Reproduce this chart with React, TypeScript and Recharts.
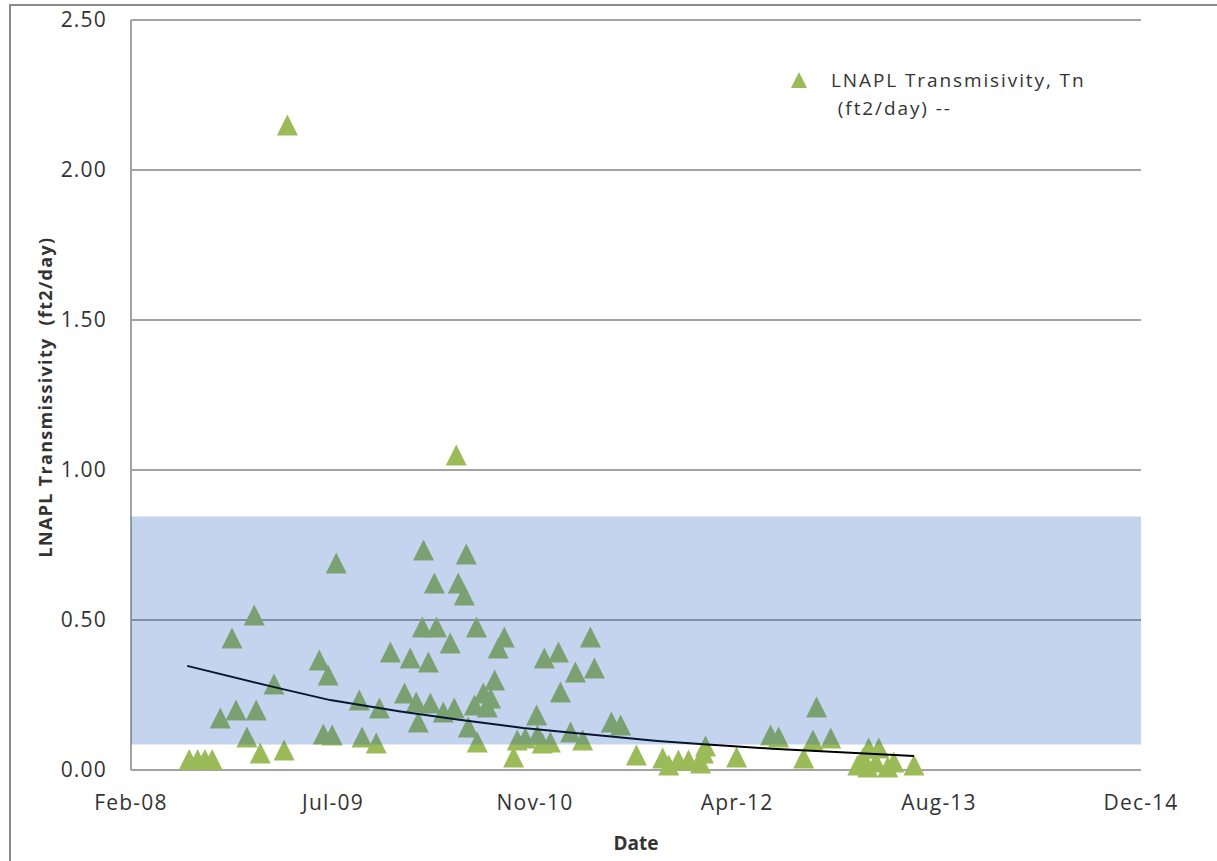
import React from "react";
import {
  CartesianGrid,
  Label,
  ReferenceArea,
  Scatter,
  ScatterChart,
  XAxis,
  YAxis,
} from "recharts";

// LNAPL transmissivity readings (ft2/day)
const tnDates = [
  "2008-07-18", "2008-08-08", "2008-08-26", "2008-09-13", "2008-10-03", "2008-11-01", "2008-11-11", "2008-12-08", "2008-12-26", "2008-12-31",
  "2009-01-10", "2009-02-13", "2009-03-10", "2009-03-18", "2009-06-05", "2009-06-15", "2009-06-27", "2009-07-07", "2009-07-17", "2009-09-12",
  "2009-09-19", "2009-10-24", "2009-11-01", "2009-11-28", "2010-01-02", "2010-01-16", "2010-01-31", "2010-02-05", "2010-02-15", "2010-02-18",
  "2010-03-02", "2010-03-07", "2010-03-17", "2010-03-22", "2010-04-08", "2010-04-25", "2010-05-05", "2010-05-10", "2010-05-15", "2010-05-30",
  "2010-06-04", "2010-06-09", "2010-06-24", "2010-06-29", "2010-07-01", "2010-07-16", "2010-07-26", "2010-08-03", "2010-08-13", "2010-08-22",
  "2010-09-06", "2010-09-29", "2010-10-08", "2010-10-28", "2010-11-25", "2010-11-27", "2010-12-14", "2010-12-29", "2011-01-18", "2011-01-23",
  "2011-02-17", "2011-03-01", "2011-03-19", "2011-04-07", "2011-04-17", "2011-05-29", "2011-06-21", "2011-07-30", "2011-10-03", "2011-10-18",
  "2011-11-11", "2011-12-06", "2012-01-05", "2012-01-12", "2012-01-17", "2012-04-03", "2012-06-26", "2012-07-16", "2012-09-16", "2012-10-09",
  "2012-10-18", "2012-11-22", "2013-01-28", "2013-02-10", "2013-02-22", "2013-02-24", "2013-03-14", "2013-03-21", "2013-04-12", "2013-04-27",
  "2013-06-16", "2010-12-09",
];
const tnValues = [
  0.035, 0.035, 0.035, 0.035, 0.173, 0.44, 0.2, 0.11, 0.517, 0.2,
  0.057, 0.287, 0.067, 2.15, 0.367, 0.12, 0.317, 0.117, 0.69, 0.233,
  0.11, 0.09, 0.207, 0.393, 0.257, 0.373, 0.227, 0.16, 0.477, 0.733,
  0.36, 0.223, 0.623, 0.477, 0.193, 0.423, 0.207, 1.05, 0.623, 0.583,
  0.72, 0.143, 0.217, 0.477, 0.093, 0.257, 0.21, 0.24, 0.3, 0.407,
  0.443, 0.043, 0.1, 0.107, 0.183, 0.117, 0.373, 0.093, 0.393, 0.26,
  0.127, 0.327, 0.1, 0.443, 0.34, 0.16, 0.15, 0.05, 0.04, 0.017,
  0.033, 0.033, 0.023, 0.057, 0.08, 0.043, 0.117, 0.11, 0.04, 0.1,
  0.21, 0.107, 0.017, 0.04, 0.01, 0.073, 0.027, 0.073, 0.01, 0.027,
  0.017, 0.09,
];

// trendline
const trendDates = [
  "2008-07-13", "2009-02-11", "2009-07-02", "2009-12-23", "2010-05-13", "2010-10-23",
  "2011-04-07", "2011-09-20", "2012-01-22", "2012-06-30", "2012-12-17", "2013-06-16",
];
const trendValues = [0.347, 0.277, 0.233, 0.195, 0.168, 0.14, 0.118, 0.097, 0.085, 0.071, 0.059, 0.047];

const yTicks = [0, 0.5, 1, 1.5, 2, 2.5];
const bandRange = [0.085, 0.845];
const MONTHS = ["Jan", "Feb", "Mar", "Apr", "May", "Jun", "Jul", "Aug", "Sep", "Oct", "Nov", "Dec"];

const DAY = 86400000;
const axisStart = Date.UTC(2008, 1, 25);
const xTicks = [0, 1, 2, 3, 4, 5].map((i) => axisStart + i * 500 * DAY);

function toMs(s: string) {
  const [y, m, d] = s.split("-").map(Number);
  return Date.UTC(y, m - 1, d);
}

const tnData = tnDates.map((d, i) => ({ x: toMs(d), y: tnValues[i] }));
const trendData = trendDates.map((d, i) => ({ x: toMs(d), y: trendValues[i] }));

const FONT = "'Open Sans', sans-serif";
const GREEN = "#9BBB59";
const GRID = "#A3A3A3";
const TEXT = "#333";

const Triangle = (props: any) => {
  const { cx, cy } = props;
  const h = 10.5;
  return (
    <path
      d={`M${cx},${cy - h}L${cx + h},${cy + h}L${cx - h},${cy + h}Z`}
      fill={GREEN}
    />
  );
};

function formatDate(v: number) {
  const d = new Date(v);
  return `${MONTHS[d.getUTCMonth()]}-${String(d.getUTCFullYear()).slice(2)}`;
}

const tickStyle = { fill: TEXT, fontSize: 21, fontFamily: FONT, letterSpacing: 1.2 };

const LegendBox = () => (
  <div
    style={{
      position: "absolute",
      left: 790,
      top: 66,
      display: "flex",
      fontFamily: FONT,
      fontSize: 19,
      color: TEXT,
    }}
  >
    <svg width={18} height={18} style={{ marginTop: 5 }}>
      <path d="M9,1L17,17L1,17Z" fill={GREEN} />
    </svg>
    <div style={{ marginLeft: 23, lineHeight: "28px", letterSpacing: 1.9, whiteSpace: "pre" }}>
      {"LNAPL Transmisivity, Tn\n (ft2/day) --"}
    </div>
  </div>
);

export default function App() {
  return (
    <div style={{ position: "absolute", left: 0, top: 0, width: 1217, height: 861, background: "#fff" }}>
      <div
        style={{
          position: "absolute",
          left: 9,
          top: 4,
          width: 1220,
          height: 880,
          border: "2px solid #8c8c8c",
        }}
      />
      <ScatterChart
        width={1217}
        height={861}
        margin={{ top: 20, right: 76, bottom: 0, left: 0 }}
        style={{ position: "absolute", left: 0, top: 0 }}
      >
        <CartesianGrid vertical={false} stroke={GRID} strokeWidth={2} />
        <XAxis
          type="number"
          dataKey="x"
          domain={[xTicks[0], xTicks[xTicks.length - 1]]}
          ticks={xTicks}
          tickFormatter={formatDate}
          height={91}
          tickLine={false}
          tickSize={0}
          tickMargin={25}
          axisLine={{ stroke: GRID, strokeWidth: 2 }}
          tick={tickStyle}
        >
          <Label
            content={() => (
              <text x={636} y={843} textAnchor="middle" dominantBaseline="central" fontFamily={FONT} fontSize={19} fontWeight="bold" fill={TEXT}>
                Date
              </text>
            )}
          />
        </XAxis>
        <YAxis
          type="number"
          dataKey="y"
          domain={[0, 2.5]}
          ticks={yTicks}
          tickFormatter={(v: number) => v.toFixed(2)}
          width={131}
          tickLine={false}
          tickSize={0}
          tickMargin={24}
          axisLine={{ stroke: GRID, strokeWidth: 2 }}
          tick={tickStyle}
        >
          <Label
            content={() => (
              <text
                x={45}
                y={397}
                transform="rotate(-90 45 397)"
                textAnchor="middle"
                dominantBaseline="central"
                fontFamily={FONT}
                fontSize={18}
                fontWeight="bold"
                letterSpacing={1.3}
                fill={TEXT}
                style={{ whiteSpace: "pre" }}
              >
                LNAPL Transmissivity  (ft2/day)
              </text>
            )}
          />
        </YAxis>
        <Scatter
          name="LNAPL Transmisivity, Tn"
          data={tnData}
          shape={Triangle}
          isAnimationActive={false}
        />
        <Scatter
          name="trend"
          data={trendData}
          line={{ stroke: "#000", strokeWidth: 2 }}
          lineType="joint"
          shape={() => null}
          legendType="none"
          isAnimationActive={false}
        />
        <ReferenceArea
          y1={bandRange[0]}
          y2={bandRange[1]}
          fill="#1E5ABE"
          fillOpacity={0.26}
          stroke="none"
          zIndex={700}
        />
      </ScatterChart>
      <LegendBox />
    </div>
  );
}
